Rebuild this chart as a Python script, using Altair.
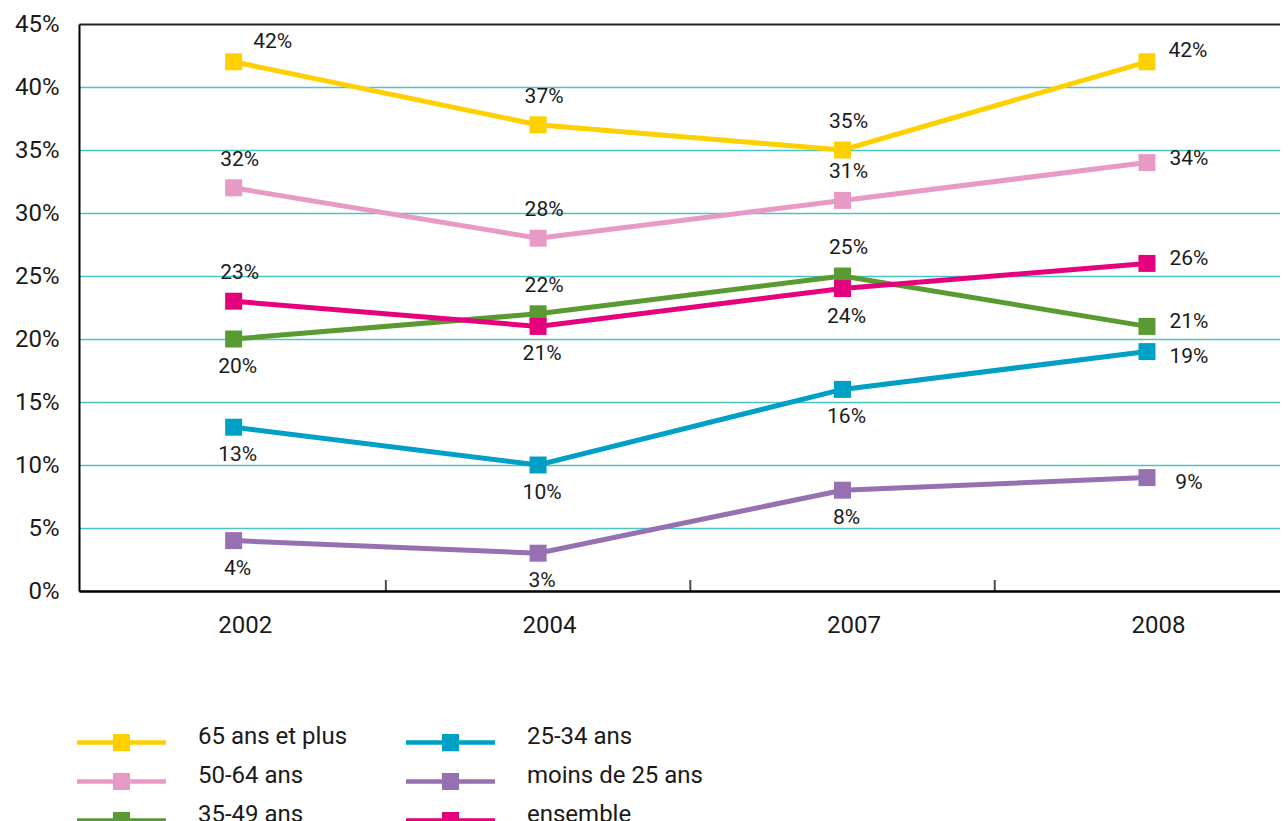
import json
import altair as alt
import pandas as pd

# ---------------- data ----------------
years = ["2002", "2004", "2007", "2008"]
series = ["65 ans et plus", "50-64 ans", "35-49 ans", "25-34 ans", "moins de 25 ans", "ensemble"]
v_65plus = [42, 37, 35, 42]
v_50_64 = [32, 28, 31, 34]
v_35_49 = [20, 22, 25, 21]
v_25_34 = [13, 10, 16, 19]
v_moins25 = [4, 3, 8, 9]
v_ensemble = [23, 21, 24, 26]
# label placement per point: a = above, b = below, r = right,
# rb = right/below, ru = right/up, ar = above-right
p_65plus = ["ar", "a", "a", "ru"]
p_50_64 = ["a", "a", "a", "r"]
p_35_49 = ["b", "a", "a", "r"]
p_25_34 = ["b", "b", "b", "rb"]
p_moins25 = ["b", "b", "b", "rb"]
p_ensemble = ["a", "b", "b", "r"]
colors = ["#FFD000", "#E79AC6", "#5A9A32", "#00A0C6", "#9670B0", "#E5007D"]

values = [v_65plus, v_50_64, v_35_49, v_25_34, v_moins25, v_ensemble]
places = [p_65plus, p_50_64, p_35_49, p_25_34, p_moins25, p_ensemble]

rows = []
for s, vals, pl in zip(series, values, places):
    for i, (v, p) in enumerate(zip(vals, pl)):
        rows.append({"series": s, "idx": i, "year": years[i], "value": v, "pos": p})
df = pd.DataFrame(rows)

bounds = pd.DataFrame({"b": [0.5, 1.5, 2.5], "z": [0, 0, 0]})

FONT = "Roboto"
TXT = "#1a1a1a"

xscale = alt.Scale(domain=[-0.508, 3.437], nice=False, zero=False)
yscale = alt.Scale(domain=[0, 45], nice=False, zero=True)

x_enc = alt.X(
    "idx:Q",
    scale=xscale,
    axis=alt.Axis(
        values=[0, 1, 2, 3],
        labelExpr=json.dumps(years) + "[datum.value]",
        title=None,
        grid=False,
        ticks=False,
        domainColor="black",
        domainWidth=2.5,
        labelFontSize=24,
        labelFont=FONT,
        labelColor=TXT,
        labelOffset=11,
        labelPadding=22,
        labelFlush=False,
        labelOverlap=False,
    ),
)
y_enc = alt.Y(
    "value:Q",
    scale=yscale,
    axis=alt.Axis(
        values=list(range(0, 50, 5)),
        labelExpr="datum.value + '%'",
        title=None,
        ticks=False,
        domainColor="black",
        domainWidth=2,
        gridColor={"condition": {"test": "datum.value == 45", "value": "#222222"}, "value": "#4CC4C2"},
        gridWidth={"condition": {"test": "datum.value == 45", "value": 2}, "value": 1.5},
        labelFontSize=24,
        labelFont=FONT,
        labelColor=TXT,
        labelPadding=20,
        labelFlush=False,
        labelOverlap=False,
    ),
)

# legend symbol: long line with a filled-looking square (drawn with strokes)
PATH = ("M-2.967,0.4H2.967"
        "M-0.567,-0.017H0.567M-0.567,0.261H0.567"
        "M-0.567,0.539H0.567M-0.567,0.817H0.567")

color_enc = alt.Color(
    "series:N",
    scale=alt.Scale(domain=series, range=colors),
    legend=alt.Legend(
        title=None,
        orient="none",
        legendX=25,
        legendY=695,
        columns=2,
        padding=0,
        symbolType=PATH,
        symbolSize=900,
        symbolStrokeWidth=4.5,
        symbolOffset=0,
        labelOffset=59,
        labelFontSize=24,
        labelFont=FONT,
        labelColor=TXT,
        columnPadding=48,
        rowPadding=0,
        labelLimit=400,
    ),
)

lines = alt.Chart(df).mark_line(strokeWidth=5).encode(
    x=x_enc, y=y_enc, color=color_enc, order="idx:Q"
)
points = alt.Chart(df).mark_point(shape="square", filled=True, size=289, opacity=1).encode(
    x="idx:Q", y="value:Q",
    color=alt.Color("series:N", scale=alt.Scale(domain=series, range=colors), legend=None),
)

offs = {"a": (6, -28), "b": (4, 28), "r": (42, -4), "rb": (42, 5), "ru": (41, -11), "ar": (39, -20)}
text_layers = []
for k, (dx, dy) in offs.items():
    text_layers.append(
        alt.Chart(df)
        .transform_filter(alt.datum.pos == k)
        .transform_calculate(label="datum.value + '%'")
        .mark_text(dx=dx, dy=dy, fontSize=21, font=FONT, color=TXT)
        .encode(x="idx:Q", y="value:Q", text="label:N")
    )

ticks = alt.Chart(bounds).mark_tick(
    orient="vertical", size=11, thickness=2, color="black", yOffset=-5.5
).encode(x="b:Q", y="z:Q")

chart = (
    alt.layer(lines, points, *text_layers, ticks)
    .properties(
        width=1201,
        height=567,
        autosize=alt.AutoSizeParams(type="none"),
        padding={"left": 71, "top": 16, "right": 0, "bottom": 230},
        background="white",
    )
    .configure_view(stroke=None)
)

chart.save("out.html", embed_options={"renderer": "svg", "actions": False})
